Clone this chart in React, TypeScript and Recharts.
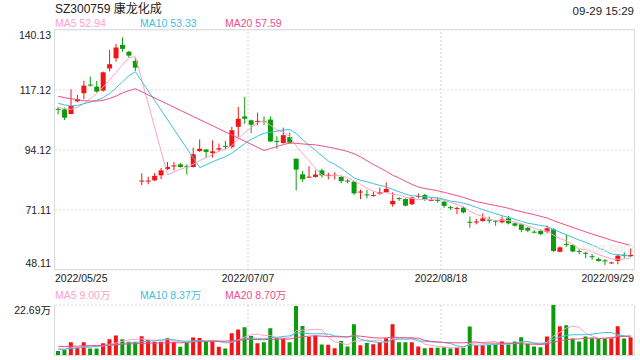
import {
  ComposedChart,
  Bar,
  Line,
  XAxis,
  YAxis,
  CartesianGrid,
  ReferenceLine,
  Cell,
} from "recharts";

const dates = [
  "2022/05/25", "2022/05/26", "2022/05/27", "2022/05/30", "2022/05/31",
  "2022/06/01", "2022/06/02", "2022/06/06", "2022/06/07", "2022/06/08", "2022/06/09", "2022/06/10",
  "2022/06/13", "2022/06/14", "2022/06/15", "2022/06/16", "2022/06/17", "2022/06/20", "2022/06/21",
  "2022/06/22", "2022/06/23", "2022/06/24", "2022/06/27", "2022/06/28", "2022/06/29", "2022/06/30",
  "2022/07/01", "2022/07/04", "2022/07/05", "2022/07/06", "2022/07/07", "2022/07/08", "2022/07/11",
  "2022/07/12", "2022/07/13", "2022/07/14", "2022/07/15", "2022/07/18", "2022/07/19", "2022/07/20",
  "2022/07/21", "2022/07/22", "2022/07/25", "2022/07/26", "2022/07/27", "2022/07/28", "2022/07/29",
  "2022/08/01", "2022/08/02", "2022/08/03", "2022/08/04", "2022/08/05", "2022/08/08", "2022/08/09",
  "2022/08/10", "2022/08/11", "2022/08/12", "2022/08/15", "2022/08/16", "2022/08/17", "2022/08/18",
  "2022/08/19", "2022/08/22", "2022/08/23", "2022/08/24", "2022/08/25", "2022/08/26", "2022/08/29",
  "2022/08/30", "2022/08/31", "2022/09/01", "2022/09/02", "2022/09/05", "2022/09/06", "2022/09/07",
  "2022/09/08", "2022/09/09", "2022/09/13", "2022/09/14", "2022/09/15", "2022/09/16", "2022/09/19",
  "2022/09/20", "2022/09/21", "2022/09/22", "2022/09/23", "2022/09/26", "2022/09/27", "2022/09/28",
  "2022/09/29",
];

const opens = [
  109.9, 109.7, 107.9, 112.8, 115.9, 119.2, 118.4, 116.9, 125.4, 129.3,
  134.4, 131.8, 128.3, 82.1, 82.1, 82.5, 84.4, 86.8, 87.9, 88.6,
  87.9, 87.6, 93.7, 94.3, 93.0, 94.3, 95.7, 95.3, 103.0, 107.0,
  105.5, 105.0, 105.3, 105.8, 97.6, 96.8, 99.1, 90.8, 84.8, 83.6,
  83.8, 86.3, 84.3, 84.3, 83.8, 82.4, 82.0, 78.0, 77.1, 76.7,
  77.3, 77.9, 73.3, 75.7, 75.3, 73.3, 76.3, 76.9, 74.8, 75.0,
  74.3, 72.2, 71.7, 72.0, 66.6, 66.5, 66.9, 67.4, 67.0, 66.4,
  67.9, 66.0, 65.6, 64.3, 62.8, 63.1, 62.8, 63.7, 55.1, 58.1,
  57.7, 55.4, 54.7, 53.4, 52.3, 51.8, 50.8, 51.6, 53.9, 53.4,
];
const highs = [
  110.7, 110.4, 117.4, 115.2, 120.7, 122.3, 120.6, 124.2, 132.5, 134.8,
  137.3, 132.1, 129.5, 85.2, 83.9, 85.3, 87.2, 89.5, 89.5, 89.1,
  88.6, 95.0, 98.2, 94.5, 97.8, 96.6, 97.6, 103.0, 110.6, 114.5,
  105.8, 108.4, 107.0, 107.0, 99.4, 102.7, 100.8, 90.8, 86.1, 87.9,
  86.3, 87.0, 85.4, 85.6, 84.3, 83.0, 82.2, 79.0, 78.8, 78.1,
  79.7, 81.7, 77.9, 76.0, 75.6, 76.3, 77.5, 77.3, 75.9, 75.9,
  74.6, 72.7, 72.4, 72.4, 68.6, 67.7, 69.8, 68.6, 67.3, 68.6,
  68.8, 66.4, 66.0, 64.7, 63.4, 63.7, 65.2, 64.1, 57.1, 61.5,
  58.0, 56.2, 55.2, 54.3, 52.9, 52.3, 51.3, 53.9, 54.9, 56.4,
];
const lows = [
  107.8, 105.6, 107.9, 112.4, 113.6, 118.4, 116.2, 116.5, 124.2, 128.0,
  131.8, 129.5, 124.4, 80.7, 81.0, 82.2, 83.0, 86.5, 86.3, 87.4,
  84.7, 87.4, 93.4, 91.2, 91.2, 93.4, 94.3, 94.6, 99.1, 104.2,
  100.6, 103.6, 103.8, 97.2, 94.6, 96.6, 96.6, 78.7, 81.9, 83.5,
  83.5, 83.5, 82.9, 82.8, 81.4, 81.3, 76.9, 75.3, 75.6, 76.2,
  76.9, 77.6, 72.4, 74.6, 72.5, 73.0, 75.6, 74.6, 74.6, 73.9,
  72.0, 71.1, 69.5, 69.8, 64.3, 65.6, 66.6, 66.0, 65.1, 66.0,
  65.6, 64.7, 62.6, 62.6, 62.2, 61.5, 62.2, 55.1, 54.9, 57.0,
  54.9, 54.1, 52.6, 52.0, 51.3, 50.0, 50.5, 50.3, 52.6, 53.1,
];
const closes = [
  109.6, 106.5, 111.1, 113.6, 118.8, 118.9, 116.5, 123.9, 127.0, 133.4,
  132.9, 130.3, 125.7, 82.4, 82.4, 84.2, 86.3, 87.6, 88.2, 87.6,
  87.7, 92.5, 94.6, 93.4, 93.6, 94.8, 95.4, 101.7, 106.1, 106.1,
  103.8, 105.3, 105.1, 97.4, 97.3, 99.8, 96.9, 86.6, 82.9, 83.9,
  84.7, 84.4, 84.6, 84.6, 82.2, 82.2, 77.5, 78.2, 76.9, 76.9,
  77.9, 79.2, 74.6, 75.5, 72.8, 75.9, 76.5, 75.2, 75.0, 74.8,
  72.7, 72.0, 71.9, 70.2, 66.4, 66.7, 67.9, 67.2, 66.8, 67.5,
  66.0, 65.1, 63.5, 63.2, 62.6, 61.9, 64.1, 55.4, 56.8, 57.9,
  55.2, 55.2, 54.5, 53.2, 51.6, 51.6, 51.0, 53.6, 53.7, 53.9,
];

// price moving averages, gaps where the line is drawn straight across
const ma5 = [
  110.4, 110.0, 109.7, 110.5, 111.92, 113.78, 115.78, 118.34, 121.02, 123.94,
  126.74, 129.5, 129.86, null, null, null, null, 84.58, 85.74, 86.78,
  87.48, 88.72, 90.12, 91.16, 92.36, 93.78, 94.36, 95.78, 98.32, 100.82,
  102.62, 104.6, 105.28, 103.54, 101.78, 100.98, 99.3, 95.6, 92.7, 90.02,
  87.0, 84.5, 84.1, 84.44, 84.1, 83.6, 82.22, 80.94, 79.4, 78.34,
  77.48, 77.82, 77.1, 76.82, 76.0, 75.6, 75.06, 75.18, 75.08, 75.48,
  74.84, 73.94, 73.28, 72.32, 70.64, 69.44, 68.62, 67.68, 67.0, 67.22,
  67.08, 66.52, 65.78, 65.06, 64.08, 63.26, 63.06, 61.44, 60.16, 59.22,
  57.88, 56.1, 55.92, 55.2, 53.94, 53.22, 52.38, 52.2, 52.3, 52.76,
];
const ma10 = [
  112.0, 111.4, 111.0, 111.2, 111.9, 112.5, 113.2, 114.2, 115.8, 117.93,
  120.26, 122.64, 124.1, null, null, null, null, null, null, null,
  null, null, 87.35, 88.45, 89.57, 90.63, 91.54, 92.95, 94.74, 96.59,
  98.2, 99.48, 100.53, 100.93, 101.3, 101.8, 101.95, 100.44, 98.12, 95.9,
  93.99, 91.9, 89.85, 88.57, 87.06, 85.3, 83.36, 82.52, 81.92, 81.22,
  80.54, 80.02, 79.02, 78.11, 77.17, 76.54, 76.44, 76.14, 75.95, 75.74,
  75.22, 74.5, 74.23, 73.7, 73.06, 72.14, 71.28, 70.48, 69.66, 68.93,
  68.26, 67.57, 66.73, 66.03, 65.65, 65.17, 64.79, 63.61, 62.61, 61.65,
  60.57, 59.58, 58.68, 57.68, 56.58, 55.55, 54.24, 54.06, 53.75, 53.35,
];
const ma20 = [
  114.7, 114.2, 113.8, 113.4, 113.0, 112.9, 112.9, 113.2, 113.9, 114.8,
  116.0, 116.9, 117.6, null, null, null, null, null, null, null,
  null, null, null, null, null, null, null, null, null, null,
  null, null, 93.94, 94.69, 95.44, 96.22, 96.75, 96.7, 96.43, 96.25,
  96.1, 95.69, 95.19, 94.75, 94.18, 93.55, 92.66, 91.48, 90.02, 88.56,
  87.27, 85.96, 84.44, 83.34, 82.12, 80.92, 79.9, 79.33, 78.94, 78.48,
  77.88, 77.26, 76.63, 75.91, 75.12, 74.34, 73.86, 73.31, 72.81, 72.34,
  71.74, 71.04, 70.48, 69.87, 69.36, 68.66, 68.04, 67.05, 66.14, 65.29,
  64.42, 63.58, 62.71, 61.86, 61.12, 60.36, 59.52, 58.84, 58.18, 57.5,
];

// volume in 万 shares
const volumes = [
  1.8, 2.3, 5.75, 3.5, 5.75, 3.0, 3.0, 5.3, 7.1, 8.9,
  7.1, 6.05, 6.05, 8.5, 6.8, 6.05, 6.05, 7.6, 6.05, 3.8,
  5.6, 7.9, 7.7, 6.05, 6.35, 3.8, 3.0, 9.9, 11.6, 12.6,
  8.6, 5.3, 5.75, 12.1, 7.6, 7.6, 5.75, 22.2, 13.2, 8.3,
  8.8, 4.8, 4.6, 3.1, 6.3, 3.85, 13.9, 4.45, 5.4, 4.85,
  5.75, 7.65, 13.9, 5.8, 5.8, 5.8, 3.85, 3.1, 3.3, 3.3,
  3.8, 3.0, 3.3, 3.3, 12.95, 4.45, 4.45, 4.5, 4.5, 6.1,
  4.85, 6.1, 8.1, 5.05, 3.85, 3.55, 8.4, 22.69, 13.1, 13.55,
  7.5, 6.1, 8.4, 7.65, 7.5, 7.65, 7.65, 13.1, 7.5, 8.1,
];
const volMa5 = [
  2.8, 2.7, 3.2, 3.4, 3.82, 4.06, 4.2, 4.11, 4.83, 5.46,
  6.28, 6.89, 7.04, 7.32, 6.9, 6.69, 6.69, 7.0, 6.51, 5.91,
  5.82, 6.19, 6.21, 6.21, 6.72, 6.36, 5.38, 5.82, 6.93, 8.18,
  9.14, 9.6, 8.77, 8.87, 7.87, 7.67, 7.76, 11.05, 11.27, 11.41,
  11.65, 11.46, 7.94, 5.92, 5.52, 4.53, 6.35, 6.32, 6.78, 6.49,
  6.87, 5.62, 7.51, 7.59, 7.78, 7.79, 7.03, 4.87, 4.37, 3.87,
  3.47, 3.3, 3.34, 3.34, 5.27, 5.4, 5.69, 5.93, 6.17, 4.8,
  4.88, 5.21, 5.93, 6.04, 5.59, 5.33, 5.79, 8.71, 10.32, 12.26,
  13.05, 12.59, 9.73, 8.64, 7.43, 7.46, 7.77, 8.71, 8.68, 8.8,
];
const volMa10 = [
  2.6, 2.6, 3.0, 3.1, 3.5, 3.6, 3.9, 4.2, 4.3, 4.64,
  5.17, 5.55, 5.58, 6.08, 6.18, 6.49, 6.79, 7.02, 6.92, 6.41,
  6.26, 6.44, 6.61, 6.36, 6.32, 6.09, 5.79, 6.02, 6.57, 7.45,
  7.75, 7.49, 7.3, 7.9, 8.03, 8.41, 8.68, 9.91, 10.07, 9.64,
  9.66, 9.61, 9.5, 8.6, 8.47, 8.09, 8.91, 7.13, 6.35, 6.01,
  5.7, 5.99, 6.92, 7.19, 7.14, 7.33, 6.33, 6.19, 5.98, 5.83,
  5.63, 5.17, 4.11, 3.86, 4.57, 4.44, 4.5, 4.64, 4.76, 5.04,
  5.14, 5.45, 5.93, 6.11, 5.2, 5.11, 5.5, 7.32, 8.18, 8.92,
  9.19, 9.19, 9.22, 9.48, 9.84, 10.25, 10.18, 9.22, 8.66, 8.12,
];
const volMa20 = [
  3.9, 3.8, 4.0, 4.0, 4.2, 4.2, 4.3, 4.4, 4.6, 4.8,
  4.9, 5.0, 5.1, 5.2, 5.4, 5.4, 5.5, 5.6, 5.6, 5.52,
  5.71, 5.99, 6.09, 6.22, 6.25, 6.29, 6.29, 6.52, 6.74, 6.93,
  7.0, 6.97, 6.95, 7.13, 7.17, 7.25, 7.23, 7.96, 8.32, 8.55,
  8.71, 8.55, 8.4, 8.25, 8.25, 8.25, 8.79, 8.52, 8.21, 7.82,
  7.68, 7.8, 8.21, 7.89, 7.8, 7.71, 7.62, 6.66, 6.17, 5.92,
  5.67, 5.58, 5.51, 5.52, 5.85, 5.88, 5.41, 5.41, 5.37, 5.43,
  5.39, 5.31, 5.02, 4.98, 4.88, 4.77, 5.0, 5.98, 6.47, 6.98,
  7.16, 7.32, 7.57, 7.79, 7.52, 7.68, 7.84, 8.27, 8.42, 8.52,
];

const priceTicks = [48.11, 71.11, 94.12, 117.12, 140.13];
const volTicks = [0, 22.69];
const dateTicks = ["2022/05/25", "2022/07/07", "2022/08/18", "2022/09/29"];
const dateLines = ["2022/07/07", "2022/08/18"];

const title = "SZ300759 康龙化成";
const timeText = "09-29 15:29";
const priceLegend = ["MA5 52.94", "MA10 53.33", "MA20 57.59"];
const volLegend = ["MA5 9.00万", "MA10 8.37万", "MA20 8.70万"];

const FONT = '"Liberation Sans", Arial, "Noto Sans CJK SC", sans-serif';
const UP = "#f21515";
const DOWN = "#0a9c0a";
const MA_COLORS = ["#ffa3c3", "#3ec0df", "#ee4f86"];
const TEXT = "#222";
const PLOT_L = 55;
const PLOT_R = 634;
const BAND = (PLOT_R - PLOT_L) / dates.length;

function Candle(props: any) {
  const { x, y, width, height, payload } = props;
  if (!payload) return null;
  const top = Math.min(y, y + height);
  const h = Math.abs(height);
  const { open, close, high, low } = payload;
  const k = high > low ? h / (high - low) : 0;
  const yo = top + (high - open) * k;
  const yc = top + (high - close) * k;
  const cx = x + width / 2;
  const color = close >= open ? UP : DOWN;
  return (
    <g>
      <line x1={cx} x2={cx} y1={top} y2={top + h} stroke={color} strokeWidth={1} />
      <rect
        x={cx - 2.5}
        y={Math.min(yo, yc)}
        width={5}
        height={Math.max(1, Math.abs(yo - yc))}
        fill={color}
      />
    </g>
  );
}

function PriceTick({ y, payload }: any) {
  const v = payload.value;
  const dy = v === priceTicks[priceTicks.length - 1] ? 8.5 : v === priceTicks[0] ? -3 : 3.7;
  return (
    <text x={51} y={y + dy} textAnchor="end" fontSize={10.5} fill={TEXT} fontFamily={FONT}>
      {v.toFixed(2)}
    </text>
  );
}

function VolTick({ y, payload }: any) {
  const v = payload.value;
  const top = v !== 0;
  return (
    <text x={51} y={y + (top ? 9 : -3.5)} textAnchor="end" fontSize={10.5} fill={TEXT} fontFamily={FONT}>
      {top ? `${v.toFixed(2)}万` : "0"}
    </text>
  );
}

function DateTick({ x, payload }: any) {
  const i = dateTicks.indexOf(payload.value);
  let tx = x - BAND / 2;
  let anchor: "start" | "middle" | "end" = "middle";
  if (i === 0) {
    tx = PLOT_L;
    anchor = "start";
  } else if (i === dateTicks.length - 1) {
    tx = PLOT_R;
    anchor = "end";
  }
  return (
    <text x={tx} y={281.5} textAnchor={anchor} fontSize={10.5} fill={TEXT} fontFamily={FONT}>
      {payload.value}
    </text>
  );
}

export default function App() {
  const rows = dates.map((date, i) => ({
    date,
    open: opens[i],
    high: highs[i],
    low: lows[i],
    close: closes[i],
    ma5: ma5[i],
    ma10: ma10[i],
    ma20: ma20[i],
    vol: volumes[i],
    vma5: volMa5[i],
    vma10: volMa10[i],
    vma20: volMa20[i],
  }));

  return (
    <div
      style={{
        position: "absolute",
        left: 0,
        top: 0,
        width: 640,
        height: 360,
        background: "#fff",
        fontFamily: FONT,
        overflow: "hidden",
      }}
    >
      {/* K line panel */}
      <div style={{ position: "absolute", left: 0, top: 0 }}>
        <ComposedChart
          width={640}
          height={290}
          data={rows}
          margin={{ top: 30, right: 6, bottom: 0, left: 0 }}
        >
          <CartesianGrid vertical={false} stroke="#e0e0e0" strokeDasharray="2 2" />
          <XAxis
            dataKey="date"
            ticks={dateTicks}
            interval={0}
            tick={<DateTick />}
            tickLine={false}
            axisLine={false}
            height={20}
          />
          <YAxis
            domain={[48.11, 140.13]}
            ticks={priceTicks}
            width={55}
            axisLine={false}
            tickLine={false}
            tick={<PriceTick />}
            allowDataOverflow
          />
          {dateLines.map((d) => (
            <ReferenceLine key={d} x={d} position="start" stroke="#d4d4d4" strokeDasharray="2 2" />
          ))}
          <Bar dataKey={(d: any) => [d.low, d.high]} shape={<Candle />} isAnimationActive={false} />
          <Line dataKey="ma5" stroke={MA_COLORS[0]} dot={false} strokeWidth={1} connectNulls isAnimationActive={false} />
          <Line dataKey="ma10" stroke={MA_COLORS[1]} dot={false} strokeWidth={1} connectNulls isAnimationActive={false} />
          <Line dataKey="ma20" stroke={MA_COLORS[2]} dot={false} strokeWidth={1} connectNulls isAnimationActive={false} />
        </ComposedChart>
      </div>
      <div
        style={{
          position: "absolute",
          left: 54,
          top: 29,
          width: 581,
          height: 241,
          boxSizing: "border-box",
          border: "1px solid #dcdcdc",
          pointerEvents: "none",
        }}
      />

      {/* volume panel */}
      <div style={{ position: "absolute", left: 0, top: 290 }}>
        <ComposedChart
          width={640}
          height={70}
          data={rows}
          margin={{ top: 15, right: 6, bottom: 5, left: 0 }}
        >
          <CartesianGrid vertical={false} stroke="#d8d8d8" strokeDasharray="2 2" />
          <XAxis dataKey="date" hide />
          <YAxis
            domain={[0, 22.69]}
            ticks={volTicks}
            width={55}
            axisLine={false}
            tickLine={false}
            tick={<VolTick />}
            allowDataOverflow
          />
          {dateLines.map((d) => (
            <ReferenceLine key={d} x={d} position="start" stroke="#d4d4d4" strokeDasharray="2 2" />
          ))}
          <Bar dataKey="vol" barSize={4} isAnimationActive={false}>
            {rows.map((r, i) => (
              <Cell key={i} fill={r.close >= r.open ? UP : DOWN} />
            ))}
          </Bar>
          <Line dataKey="vma5" stroke={MA_COLORS[0]} dot={false} strokeWidth={1} isAnimationActive={false} />
          <Line dataKey="vma10" stroke={MA_COLORS[1]} dot={false} strokeWidth={1} isAnimationActive={false} />
          <Line dataKey="vma20" stroke={MA_COLORS[2]} dot={false} strokeWidth={1} isAnimationActive={false} />
        </ComposedChart>
      </div>
      <div
        style={{
          position: "absolute",
          left: 54,
          top: 305,
          width: 581,
          height: 51,
          boxSizing: "border-box",
          borderLeft: "1px solid #dcdcdc",
          borderRight: "1px solid #dcdcdc",
          borderBottom: "1px solid #dcdcdc",
          pointerEvents: "none",
        }}
      />

      {/* header texts and legends */}
      <svg
        width={640}
        height={360}
        style={{ position: "absolute", left: 0, top: 0, pointerEvents: "none" }}
        fontFamily={FONT}
      >
        <text x={55} y={12.5} fontSize={12} fill={TEXT}>
          {title}
        </text>
        <text x={634} y={15} fontSize={11.5} fill={TEXT} textAnchor="end">
          {timeText}
        </text>
        {priceLegend.map((t, i) => (
          <text key={t} x={55 + i * 85} y={27.3} fontSize={10.5} fill={MA_COLORS[i]}>
            {t}
          </text>
        ))}
        {volLegend.map((t, i) => (
          <text key={t} x={55 + i * 85} y={299.3} fontSize={10.5} fill={MA_COLORS[i]}>
            {t}
          </text>
        ))}
        <text x={582} y={252} fontSize={13} fill="#ececec">
          sina.com
        </text>
      </svg>
    </div>
  );
}
